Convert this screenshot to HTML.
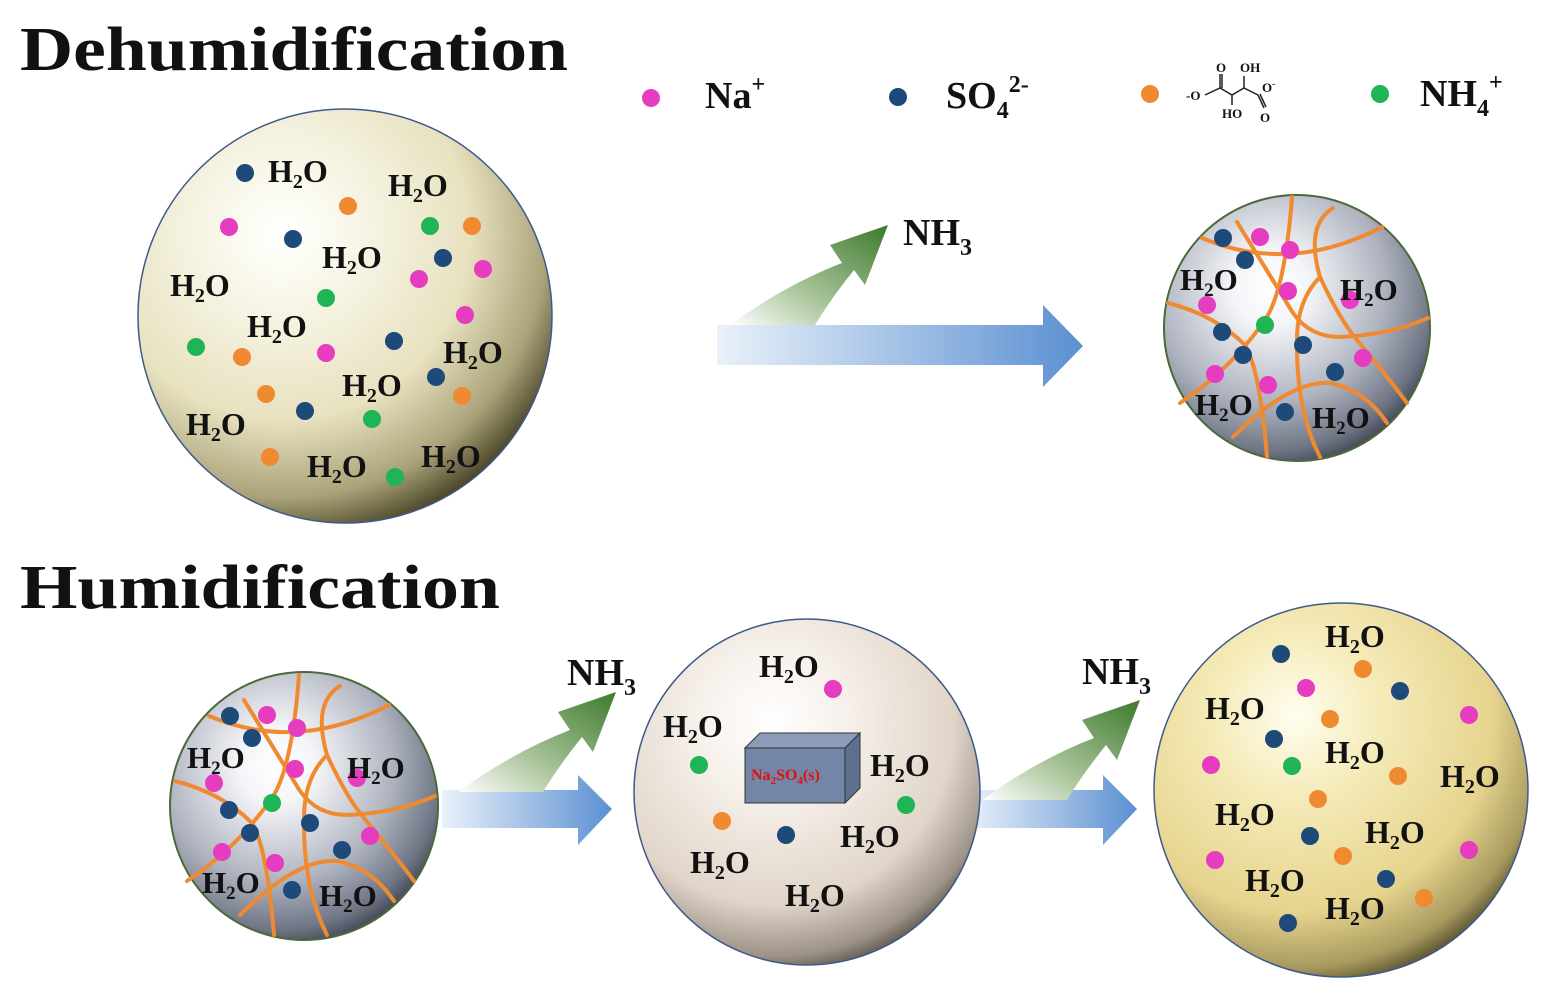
<!DOCTYPE html><html><head><style>body{margin:0;background:#fff}svg{display:block}text{font-family:"Liberation Serif",serif;font-weight:bold;fill:#111}</style></head><body>
<svg width="1548" height="997" viewBox="0 0 1548 997" xmlns="http://www.w3.org/2000/svg">
<defs>
<radialGradient id="g1" cx="0.35" cy="0.3" r="0.75"><stop offset="0" stop-color="#fff"/><stop offset="0.15" stop-color="#fbfaf0"/><stop offset="0.6" stop-color="#e8e2c0"/><stop offset="0.85" stop-color="#aaa37a"/><stop offset="1" stop-color="#4a4528"/></radialGradient>
<radialGradient id="g2" cx="0.4" cy="0.35" r="0.72"><stop offset="0" stop-color="#fff"/><stop offset="0.2" stop-color="#f4f5f8"/><stop offset="0.6" stop-color="#aeb3bf"/><stop offset="0.85" stop-color="#6f7584"/><stop offset="1" stop-color="#2d3140"/></radialGradient>
<radialGradient id="g3" cx="0.4" cy="0.3" r="0.75"><stop offset="0" stop-color="#fff"/><stop offset="0.3" stop-color="#f6f0ea"/><stop offset="0.7" stop-color="#e0d5c8"/><stop offset="0.9" stop-color="#9c9285"/><stop offset="1" stop-color="#4a443c"/></radialGradient>
<radialGradient id="g4" cx="0.38" cy="0.3" r="0.75"><stop offset="0" stop-color="#fffdf0"/><stop offset="0.3" stop-color="#f5ebb8"/><stop offset="0.7" stop-color="#e6d48e"/><stop offset="0.9" stop-color="#a89a5e"/><stop offset="1" stop-color="#4a4428"/></radialGradient>
<linearGradient id="bl" x1="0" x2="1"><stop offset="0" stop-color="#eaf1f9"/><stop offset="1" stop-color="#5b90d2"/></linearGradient>
<linearGradient id="gr" x1="0" y1="1" x2="1" y2="0"><stop offset="0" stop-color="#fff"/><stop offset="0.4" stop-color="#a9c49a"/><stop offset="1" stop-color="#3d7a2d"/></linearGradient>
<g id="gel">
<g fill="none" stroke="#f08a30" stroke-width="4" stroke-linecap="round">
<path d="M1202,238 Q1290,275 1382,227"/>
<path d="M1237,222 L1293,313 Q1310,337 1340,337 Q1390,335 1428,318"/>
<path d="M1292,197 Q1285,290 1265,320 Q1230,370 1180,403"/>
<path d="M1333,208 Q1305,225 1320,277 Q1340,320 1357,340 Q1390,380 1407,403"/>
<path d="M1168,303 Q1215,315 1245,345 Q1260,370 1267,457"/>
<path d="M1320,277 Q1297,300 1297,340 Q1296,410 1320,457"/>
<path d="M1233,437 Q1290,380 1330,383 Q1365,390 1387,423"/>
</g>
<g fill="#1e4a7a"><circle cx="1223" cy="238" r="9"/><circle cx="1245" cy="260" r="9"/><circle cx="1222" cy="332" r="9"/><circle cx="1243" cy="355" r="9"/><circle cx="1303" cy="345" r="9"/><circle cx="1335" cy="372" r="9"/><circle cx="1285" cy="412" r="9"/></g>
<g fill="#e63cc0"><circle cx="1260" cy="237" r="9"/><circle cx="1290" cy="250" r="9"/><circle cx="1288" cy="291" r="9"/><circle cx="1207" cy="305" r="9"/><circle cx="1350" cy="300" r="9"/><circle cx="1215" cy="374" r="9"/><circle cx="1268" cy="385" r="9"/><circle cx="1363" cy="358" r="9"/></g>
<circle cx="1265" cy="325" r="9" fill="#1fb455"/>
<g font-size="31"><text x="1180" y="290">H<tspan font-size="19" dy="6">2</tspan><tspan dy="-6">O</tspan></text><text x="1340" y="300">H<tspan font-size="19" dy="6">2</tspan><tspan dy="-6">O</tspan></text><text x="1195" y="415">H<tspan font-size="19" dy="6">2</tspan><tspan dy="-6">O</tspan></text><text x="1312" y="428">H<tspan font-size="19" dy="6">2</tspan><tspan dy="-6">O</tspan></text></g>
</g>
<path id="ga" d="M0,0 Q55,-40 112,-62 L100,-80 L158,-100 L135,-40 L124,-55 Q100,-25 85,0 Z" fill="url(#gr)"/>
</defs>
<text x="20" y="70" font-size="62" textLength="548" lengthAdjust="spacingAndGlyphs">Dehumidification</text>
<text x="20" y="608" font-size="62" textLength="480" lengthAdjust="spacingAndGlyphs">Humidification</text>
<!-- legend -->
<circle cx="651" cy="98" r="9" fill="#e63cc0"/><text x="705" y="108" font-size="38">Na<tspan font-size="24" dy="-16">+</tspan></text>
<circle cx="898" cy="97" r="9" fill="#1e4a7a"/><text x="946" y="108" font-size="38">SO<tspan font-size="24" dy="10">4</tspan><tspan font-size="24" dy="-26">2-</tspan></text>
<circle cx="1150" cy="94" r="9" fill="#f08a30"/>
<g stroke="#222" stroke-width="1.5" fill="none"><path d="M1205,95 L1220,88 L1232,95 L1244,88 L1258,95 M1220,88 L1220,74 M1222,88 L1222,74 M1232,95 L1232,105 M1244,88 L1244,76 M1258,95 L1264,108 M1260,94 L1266,107"/></g>
<g font-size="13"><text x="1186" y="100">-O</text><text x="1216" y="72">O</text><text x="1240" y="72">OH</text><text x="1262" y="92">O<tspan font-size="9" dy="-5">-</tspan></text><text x="1222" y="118">HO</text><text x="1260" y="122">O</text></g>
<circle cx="1380" cy="94" r="9" fill="#1fb455"/><text x="1420" y="106" font-size="38">NH<tspan font-size="24" dy="10">4</tspan><tspan font-size="24" dy="-26">+</tspan></text>
<!-- top-left sphere -->
<circle cx="345" cy="316" r="207" fill="url(#g1)" stroke="#3e5a8a" stroke-width="1.5"/>
<g fill="#1e4a7a"><circle cx="245" cy="173" r="9"/><circle cx="293" cy="239" r="9"/><circle cx="443" cy="258" r="9"/><circle cx="394" cy="341" r="9"/><circle cx="436" cy="377" r="9"/><circle cx="305" cy="411" r="9"/></g>
<g fill="#f08a30"><circle cx="348" cy="206" r="9"/><circle cx="472" cy="226" r="9"/><circle cx="242" cy="357" r="9"/><circle cx="266" cy="394" r="9"/><circle cx="462" cy="396" r="9"/><circle cx="270" cy="457" r="9"/></g>
<g fill="#e63cc0"><circle cx="229" cy="227" r="9"/><circle cx="483" cy="269" r="9"/><circle cx="419" cy="279" r="9"/><circle cx="465" cy="315" r="9"/><circle cx="326" cy="353" r="9"/></g>
<g fill="#1fb455"><circle cx="430" cy="226" r="9"/><circle cx="326" cy="298" r="9"/><circle cx="196" cy="347" r="9"/><circle cx="372" cy="419" r="9"/><circle cx="395" cy="477" r="9"/></g>
<g font-size="32">
<text x="268" y="182">H<tspan font-size="20" dy="6">2</tspan><tspan dy="-6">O</tspan></text>
<text x="388" y="196">H<tspan font-size="20" dy="6">2</tspan><tspan dy="-6">O</tspan></text>
<text x="322" y="268">H<tspan font-size="20" dy="6">2</tspan><tspan dy="-6">O</tspan></text>
<text x="170" y="296">H<tspan font-size="20" dy="6">2</tspan><tspan dy="-6">O</tspan></text>
<text x="247" y="337">H<tspan font-size="20" dy="6">2</tspan><tspan dy="-6">O</tspan></text>
<text x="443" y="363">H<tspan font-size="20" dy="6">2</tspan><tspan dy="-6">O</tspan></text>
<text x="342" y="396">H<tspan font-size="20" dy="6">2</tspan><tspan dy="-6">O</tspan></text>
<text x="186" y="435">H<tspan font-size="20" dy="6">2</tspan><tspan dy="-6">O</tspan></text>
<text x="307" y="477">H<tspan font-size="20" dy="6">2</tspan><tspan dy="-6">O</tspan></text>
<text x="421" y="467">H<tspan font-size="20" dy="6">2</tspan><tspan dy="-6">O</tspan></text>
</g>
<!-- top arrows -->
<path d="M717,325 L1043,325 L1043,305 L1083,346 L1043,387 L1043,365 L717,365 Z" fill="url(#bl)"/>
<use href="#ga" transform="translate(730,325)"/>
<text x="903" y="245" font-size="38">NH<tspan font-size="24" dy="10">3</tspan></text>
<!-- top-right gel -->
<circle cx="1297" cy="328" r="133" fill="url(#g2)" stroke="#4a6a3a" stroke-width="2"/>
<use href="#gel"/>
<!-- bottom-left gel -->
<circle cx="304" cy="806" r="134" fill="url(#g2)" stroke="#4a6a3a" stroke-width="2"/>
<use href="#gel" transform="translate(-993,478)"/>
<!-- bottom arrows -->
<path d="M442,790 L578,790 L578,775 L612,809 L578,845 L578,828 L442,828 Z" fill="url(#bl)"/>
<use href="#ga" transform="translate(458,792)"/>
<text x="567" y="685" font-size="38">NH<tspan font-size="24" dy="10">3</tspan></text>
<path d="M968,790 L1103,790 L1103,775 L1137,809 L1103,845 L1103,828 L968,828 Z" fill="url(#bl)"/>
<use href="#ga" transform="translate(982,800)"/>
<text x="1082" y="684" font-size="38">NH<tspan font-size="24" dy="10">3</tspan></text>
<!-- bottom middle -->
<circle cx="807" cy="792" r="173" fill="url(#g3)" stroke="#3e5a8a" stroke-width="1.5"/>
<path d="M745,748 L760,733 L860,733 L845,748 Z" fill="#8a9cb8" stroke="#333" stroke-width="1"/>
<path d="M845,748 L860,733 L860,788 L845,803 Z" fill="#5e7090" stroke="#333" stroke-width="1"/>
<rect x="745" y="748" width="100" height="55" fill="#7386a6" stroke="#333" stroke-width="1"/>
<text x="751" y="780" font-size="16" style="fill:#e01010">Na<tspan font-size="11" dy="4">2</tspan><tspan dy="-4">SO</tspan><tspan font-size="11" dy="4">4</tspan><tspan dy="-4">(s)</tspan></text>
<circle cx="833" cy="689" r="9" fill="#e63cc0"/><circle cx="699" cy="765" r="9" fill="#1fb455"/><circle cx="906" cy="805" r="9" fill="#1fb455"/><circle cx="722" cy="821" r="9" fill="#f08a30"/><circle cx="786" cy="835" r="9" fill="#1e4a7a"/>
<g font-size="32">
<text x="759" y="677">H<tspan font-size="20" dy="6">2</tspan><tspan dy="-6">O</tspan></text>
<text x="663" y="737">H<tspan font-size="20" dy="6">2</tspan><tspan dy="-6">O</tspan></text>
<text x="870" y="776">H<tspan font-size="20" dy="6">2</tspan><tspan dy="-6">O</tspan></text>
<text x="840" y="847">H<tspan font-size="20" dy="6">2</tspan><tspan dy="-6">O</tspan></text>
<text x="690" y="873">H<tspan font-size="20" dy="6">2</tspan><tspan dy="-6">O</tspan></text>
<text x="785" y="906">H<tspan font-size="20" dy="6">2</tspan><tspan dy="-6">O</tspan></text>
</g>
<!-- bottom right -->
<circle cx="1341" cy="790" r="187" fill="url(#g4)" stroke="#3e5a8a" stroke-width="1.5"/>
<g fill="#1e4a7a"><circle cx="1281" cy="654" r="9"/><circle cx="1400" cy="691" r="9"/><circle cx="1274" cy="739" r="9"/><circle cx="1310" cy="836" r="9"/><circle cx="1386" cy="879" r="9"/><circle cx="1288" cy="923" r="9"/></g>
<g fill="#f08a30"><circle cx="1363" cy="669" r="9"/><circle cx="1330" cy="719" r="9"/><circle cx="1398" cy="776" r="9"/><circle cx="1318" cy="799" r="9"/><circle cx="1343" cy="856" r="9"/><circle cx="1424" cy="898" r="9"/></g>
<g fill="#e63cc0"><circle cx="1306" cy="688" r="9"/><circle cx="1469" cy="715" r="9"/><circle cx="1211" cy="765" r="9"/><circle cx="1215" cy="860" r="9"/><circle cx="1469" cy="850" r="9"/></g>
<circle cx="1292" cy="766" r="9" fill="#1fb455"/>
<g font-size="32">
<text x="1325" y="647">H<tspan font-size="20" dy="6">2</tspan><tspan dy="-6">O</tspan></text>
<text x="1205" y="719">H<tspan font-size="20" dy="6">2</tspan><tspan dy="-6">O</tspan></text>
<text x="1325" y="763">H<tspan font-size="20" dy="6">2</tspan><tspan dy="-6">O</tspan></text>
<text x="1440" y="787">H<tspan font-size="20" dy="6">2</tspan><tspan dy="-6">O</tspan></text>
<text x="1215" y="825">H<tspan font-size="20" dy="6">2</tspan><tspan dy="-6">O</tspan></text>
<text x="1365" y="843">H<tspan font-size="20" dy="6">2</tspan><tspan dy="-6">O</tspan></text>
<text x="1245" y="891">H<tspan font-size="20" dy="6">2</tspan><tspan dy="-6">O</tspan></text>
<text x="1325" y="919">H<tspan font-size="20" dy="6">2</tspan><tspan dy="-6">O</tspan></text>
</g>
</svg>
</body></html>
